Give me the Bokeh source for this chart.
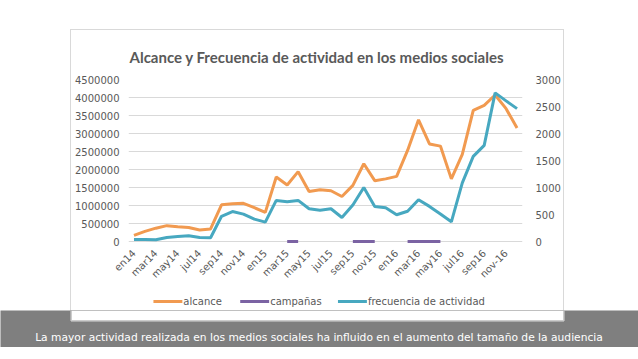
import math
from bokeh.plotting import figure
from bokeh.layouts import column
from bokeh.models import (Range1d, LinearAxis, FixedTicker, Label,
                          NumeralTickFormatter, ColumnDataSource)
from bokeh.core.properties import value
from bokeh.embed import file_html
from bokeh.resources import INLINE

# ---------------- data ----------------
months = ["en14", "feb14", "mar14", "abr14", "may14", "jun14", "jul14", "ago14", "sep14", "oct14", "nov14", "dic14",
          "en15", "feb15", "mar15", "abr15", "may15", "jun15", "jul15", "ago15", "sep15", "oct15", "nov15", "dic15",
          "en16", "feb16", "mar16", "abr16", "may16", "jun16", "jul16", "ago16", "sep16", "oct16", "nov-16", "dic16"]
tick_labels = ["en14", "mar14", "may14", "jul14", "sep14", "nov14", "en15", "mar15", "may15",
               "jul15", "sep15", "nov15", "en16", "mar16", "may16", "jul16", "sep16", "nov-16"]

alcance = [170000, 280000, 370000, 440000, 410000, 390000, 320000, 350000, 1020000, 1050000, 1060000, 940000,
           810000, 1790000, 1570000, 1940000, 1390000, 1440000, 1410000, 1250000, 1560000, 2160000, 1690000, 1740000,
           1810000, 2530000, 3380000, 2710000, 2650000, 1740000, 2420000, 3640000, 3780000, 4070000, 3690000, 3150000]

campanas = [None, None, None, None, None, None, None, None, None, None, None, None,
            None, None, 1, 1, None, None, None, None, 1, 1, 1, None,
            None, 1, 1, 1, 1, None, None, None, None, None, None, None]

frecuencia = [37, 37, 31, 74, 93, 108, 74, 70, 467, 555, 507, 415,
              359, 761, 736, 761, 606, 580, 606, 445, 675, 1000, 650, 625,
              495, 560, 773, 650, 510, 365, 1085, 1577, 1781, 2752, 2604, 2461]

left_ticks = [0, 500000, 1000000, 1500000, 2000000, 2500000, 3000000, 3500000, 4000000, 4500000]
right_ticks = [0, 500, 1000, 1500, 2000, 2500, 3000]

series_names = ["alcance", "campañas", "frecuencia de actividad"]
title_text = "Alcance y Frecuencia de actividad en los medios sociales"
caption_text = "La mayor actividad realizada en los medios sociales ha influido en el aumento del tamaño de la audiencia"

# ---------------- styling ----------------
ORANGE = "#F19A50"
PURPLE = "#7B63A3"
TEAL = "#47A8C0"
COLORS = [ORANGE, PURPLE, TEAL]
GRID = "#D9D9D9"
TXT = "#595959"
BAND = "#7F7F7F"
AX_FONT = "DejaVu Sans"

x = list(range(len(months)))
camp = [float("nan") if v is None else v for v in campanas]
src = ColumnDataSource(dict(x=x, alcance=alcance, camp=camp, frec=frecuencia))

# ---------------- main chart (inside the white box) ----------------
p = figure(width=492, height=265, output_backend="svg", toolbar_location=None,
           title=title_text,
           x_range=Range1d(-0.5, 35.5), y_range=Range1d(-111111, 4500000),
           min_border_left=57, min_border_right=40, min_border_top=49, min_border_bottom=50)
p.extra_y_ranges = {"right": Range1d(-74.07, 3000)}
p.outline_line_color = None
p.background_fill_color = "white"
p.border_fill_color = "white"

p.title.text_font = "Lato"
p.title.text_font_style = "bold"
p.title.text_font_size = "15px"
p.title.text_color = TXT
p.title.align = "left"
p.title.offset = 1
p.title.standoff = 28

p.xgrid.grid_line_color = None
p.ygrid.ticker = FixedTicker(ticks=left_ticks)
p.ygrid.grid_line_color = GRID
p.ygrid.grid_line_width = 1

xax = p.xaxis[0]
lax = p.yaxis[0]
rax = LinearAxis(y_range_name="right", ticker=FixedTicker(ticks=right_ticks))
p.add_layout(rax, "right")

for ax in [xax, lax, rax]:
    ax.axis_line_color = None
    ax.major_tick_line_color = None
    ax.minor_tick_line_color = None
    ax.major_tick_out = 0
    ax.major_tick_in = 0
    ax.minor_tick_out = 0
    ax.minor_tick_in = 0
    ax.major_label_text_font = AX_FONT
    ax.major_label_text_font_size = "10px"
    ax.major_label_text_color = TXT

xax.ticker = FixedTicker(ticks=list(range(0, 36, 2)))
xax.major_label_overrides = {i * 2: lab for i, lab in enumerate(tick_labels)}
xax.major_label_orientation = math.pi / 4
xax.major_label_standoff = 6

lax.ticker = FixedTicker(ticks=left_ticks)
lax.formatter = NumeralTickFormatter(format="0")
lax.major_label_standoff = 9

rax.formatter = NumeralTickFormatter(format="0")
rax.major_label_standoff = 13

p.line("x", "alcance", source=src, line_color=ORANGE, line_width=3)
p.line("x", "camp", source=src, line_color=PURPLE, line_width=3, y_range_name="right")
p.line("x", "frec", source=src, line_color=TEAL, line_width=3, y_range_name="right")

# ---------------- legend strip (still inside the white box) ----------------
# the column aligns this strip's frame with the chart frame (page x 128..523),
# so the range is expressed in page pixels
item_start = [153, 240, 338]   # layout positions (page px) of the legend swatches
lg = figure(width=492, height=15, output_backend="svg", toolbar_location=None,
            x_range=Range1d(128, 523), y_range=Range1d(15, 0),
            x_axis_type=None, y_axis_type=None,
            min_border_left=0, min_border_right=0, min_border_top=0, min_border_bottom=0)
lg.outline_line_color = None
lg.background_fill_color = "white"
lg.border_fill_color = "white"
lg.segment(x0=item_start, y0=[6] * 3, x1=[s + 29 for s in item_start], y1=[6] * 3,
           line_color=COLORS, line_width=3)
lg.text(x=[s + 30 for s in item_start], y=[6] * 3, text=series_names,
        text_font=value(AX_FONT), text_font_size="10px", text_color=TXT,
        text_align="left", text_baseline="middle")

box = column(p, lg, spacing=0, margin=(30, 0, 0, 71),
             styles={"box-shadow": "0 0 0 1px #D9D9D9"})

# ---------------- grey caption band ----------------
bd = figure(width=638, height=37, output_backend="svg", toolbar_location=None,
            x_range=Range1d(0, 638), y_range=Range1d(37, 0),
            x_axis_type=None, y_axis_type=None,
            min_border_left=0, min_border_right=0, min_border_top=0, min_border_bottom=0)
bd.outline_line_color = None
bd.background_fill_color = BAND
bd.border_fill_color = BAND
bd.quad(left=71, right=563, top=0, bottom=10, fill_color="white", line_color=None)
bd.segment(x0=[70.5, 563.5, 70.5], y0=[0, 0, 10.5], x1=[70.5, 563.5, 563.5], y1=[10.5, 10.5, 10.5],
           line_color=GRID, line_width=1)
bd.add_layout(Label(x=318.5, y=27, text=caption_text, text_font="DejaVu Sans",
                    text_font_size="10.7px", text_color="white",
                    text_align="center", text_baseline="middle"))

root = column(box, bd, spacing=0)

open("out.html", "w").write(file_html(root, INLINE))
